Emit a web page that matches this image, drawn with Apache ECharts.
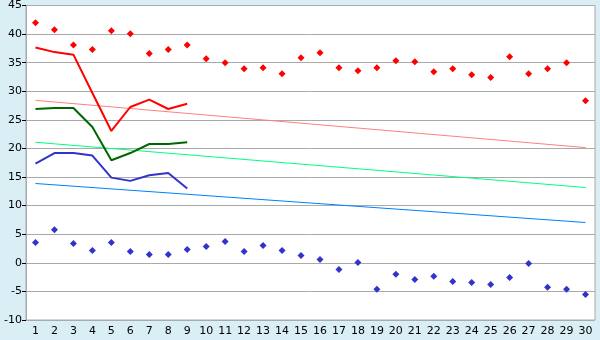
<!DOCTYPE html>
<html><head><meta charset="utf-8">
<script src="https://cdn.jsdelivr.net/npm/echarts@6/dist/echarts.min.js"></script>
<style>html,body{margin:0;padding:0;background:#daeef5;}#c{width:600px;height:340px;}</style>
</head><body><div id="c"></div>
<script>
var categories = ['1','2','3','4','5','6','7','8','9','10','11','12','13','14','15','16','17','18','19','20','21','22','23','24','25','26','27','28','29','30'];
var maxPoints = [42.0,40.75,38.1,37.3,40.6,40.05,36.6,37.3,38.1,35.7,35.0,33.95,34.1,33.07,35.87,36.74,34.1,33.6,34.1,35.34,35.17,33.4,33.95,32.9,32.4,36.04,33.07,33.95,35.0,28.35];
var minPoints = [3.56,5.8,3.38,2.16,3.56,1.99,1.46,1.46,2.34,2.86,3.73,1.99,3.04,2.16,1.29,0.59,-1.15,0.07,-4.64,-2.02,-2.9,-2.37,-3.25,-3.43,-3.77,-2.55,-0.1,-4.29,-4.64,-5.52];
var redLine = [37.67,36.85,36.4,29.7,23.06,27.25,28.53,26.9,27.83];
var greenLine = [26.9,27.07,27.07,23.75,17.93,19.2,20.78,20.78,21.08];
var blueLine = [17.35,19.2,19.2,18.75,14.9,14.33,15.3,15.7,12.99];
var trendRedEnds = [28.41, 20.15];
var trendGreenEnds = [21.08, 13.17];
var trendBlueEnds = [13.87, 7.05];

function ends(e){ var a = categories.map(function(){return null;}); a[0]=e[0]; a[a.length-1]=e[1]; return a; }

var chart = echarts.init(document.getElementById('c'), null, {renderer:'canvas'});
var lbl = {color:'#000', fontFamily:'DejaVu Sans', fontSize:11};
chart.setOption({
  backgroundColor:'#daeef5',
  animation:false,
  grid:{left:26,right:5,top:5,bottom:20,show:true,backgroundColor:'#fff',borderColor:'#aaa',borderWidth:1},
  xAxis:{type:'category',data:categories,boundaryGap:true,
    axisLine:{lineStyle:{color:'#aaa'}},
    axisTick:{alignWithLabel:true,length:5,lineStyle:{color:'#000'}},
    axisLabel:Object.assign({margin:6,interval:0},lbl),splitLine:{show:false}},
  yAxis:{type:'value',min:-10,max:45,interval:5,
    axisLine:{show:true,lineStyle:{color:'#aaa'}},
    axisTick:{show:true,length:4,lineStyle:{color:'#000'}},
    axisLabel:Object.assign({margin:4},lbl),
    splitLine:{lineStyle:{color:'#aaa',width:1}}},
  series:[
    {type:'line',data:ends(trendRedEnds),connectNulls:true,symbol:'none',lineStyle:{color:'#ff8080',width:1}},
    {type:'line',data:ends(trendGreenEnds),connectNulls:true,symbol:'none',lineStyle:{color:'#00ff80',width:1}},
    {type:'line',data:ends(trendBlueEnds),connectNulls:true,symbol:'none',lineStyle:{color:'#0080ff',width:1}},
    {type:'line',data:redLine,symbol:'none',lineStyle:{color:'#ff0000',width:2}},
    {type:'line',data:greenLine,symbol:'none',lineStyle:{color:'#006600',width:2}},
    {type:'line',data:blueLine,symbol:'none',lineStyle:{color:'#3333cc',width:2}},
    {type:'scatter',data:maxPoints,symbol:'diamond',symbolSize:7,itemStyle:{color:'#ff0000',opacity:1}},
    {type:'scatter',data:minPoints,symbol:'diamond',symbolSize:7,itemStyle:{color:'#3333cc',opacity:1}}
  ]
});
</script></body></html>
